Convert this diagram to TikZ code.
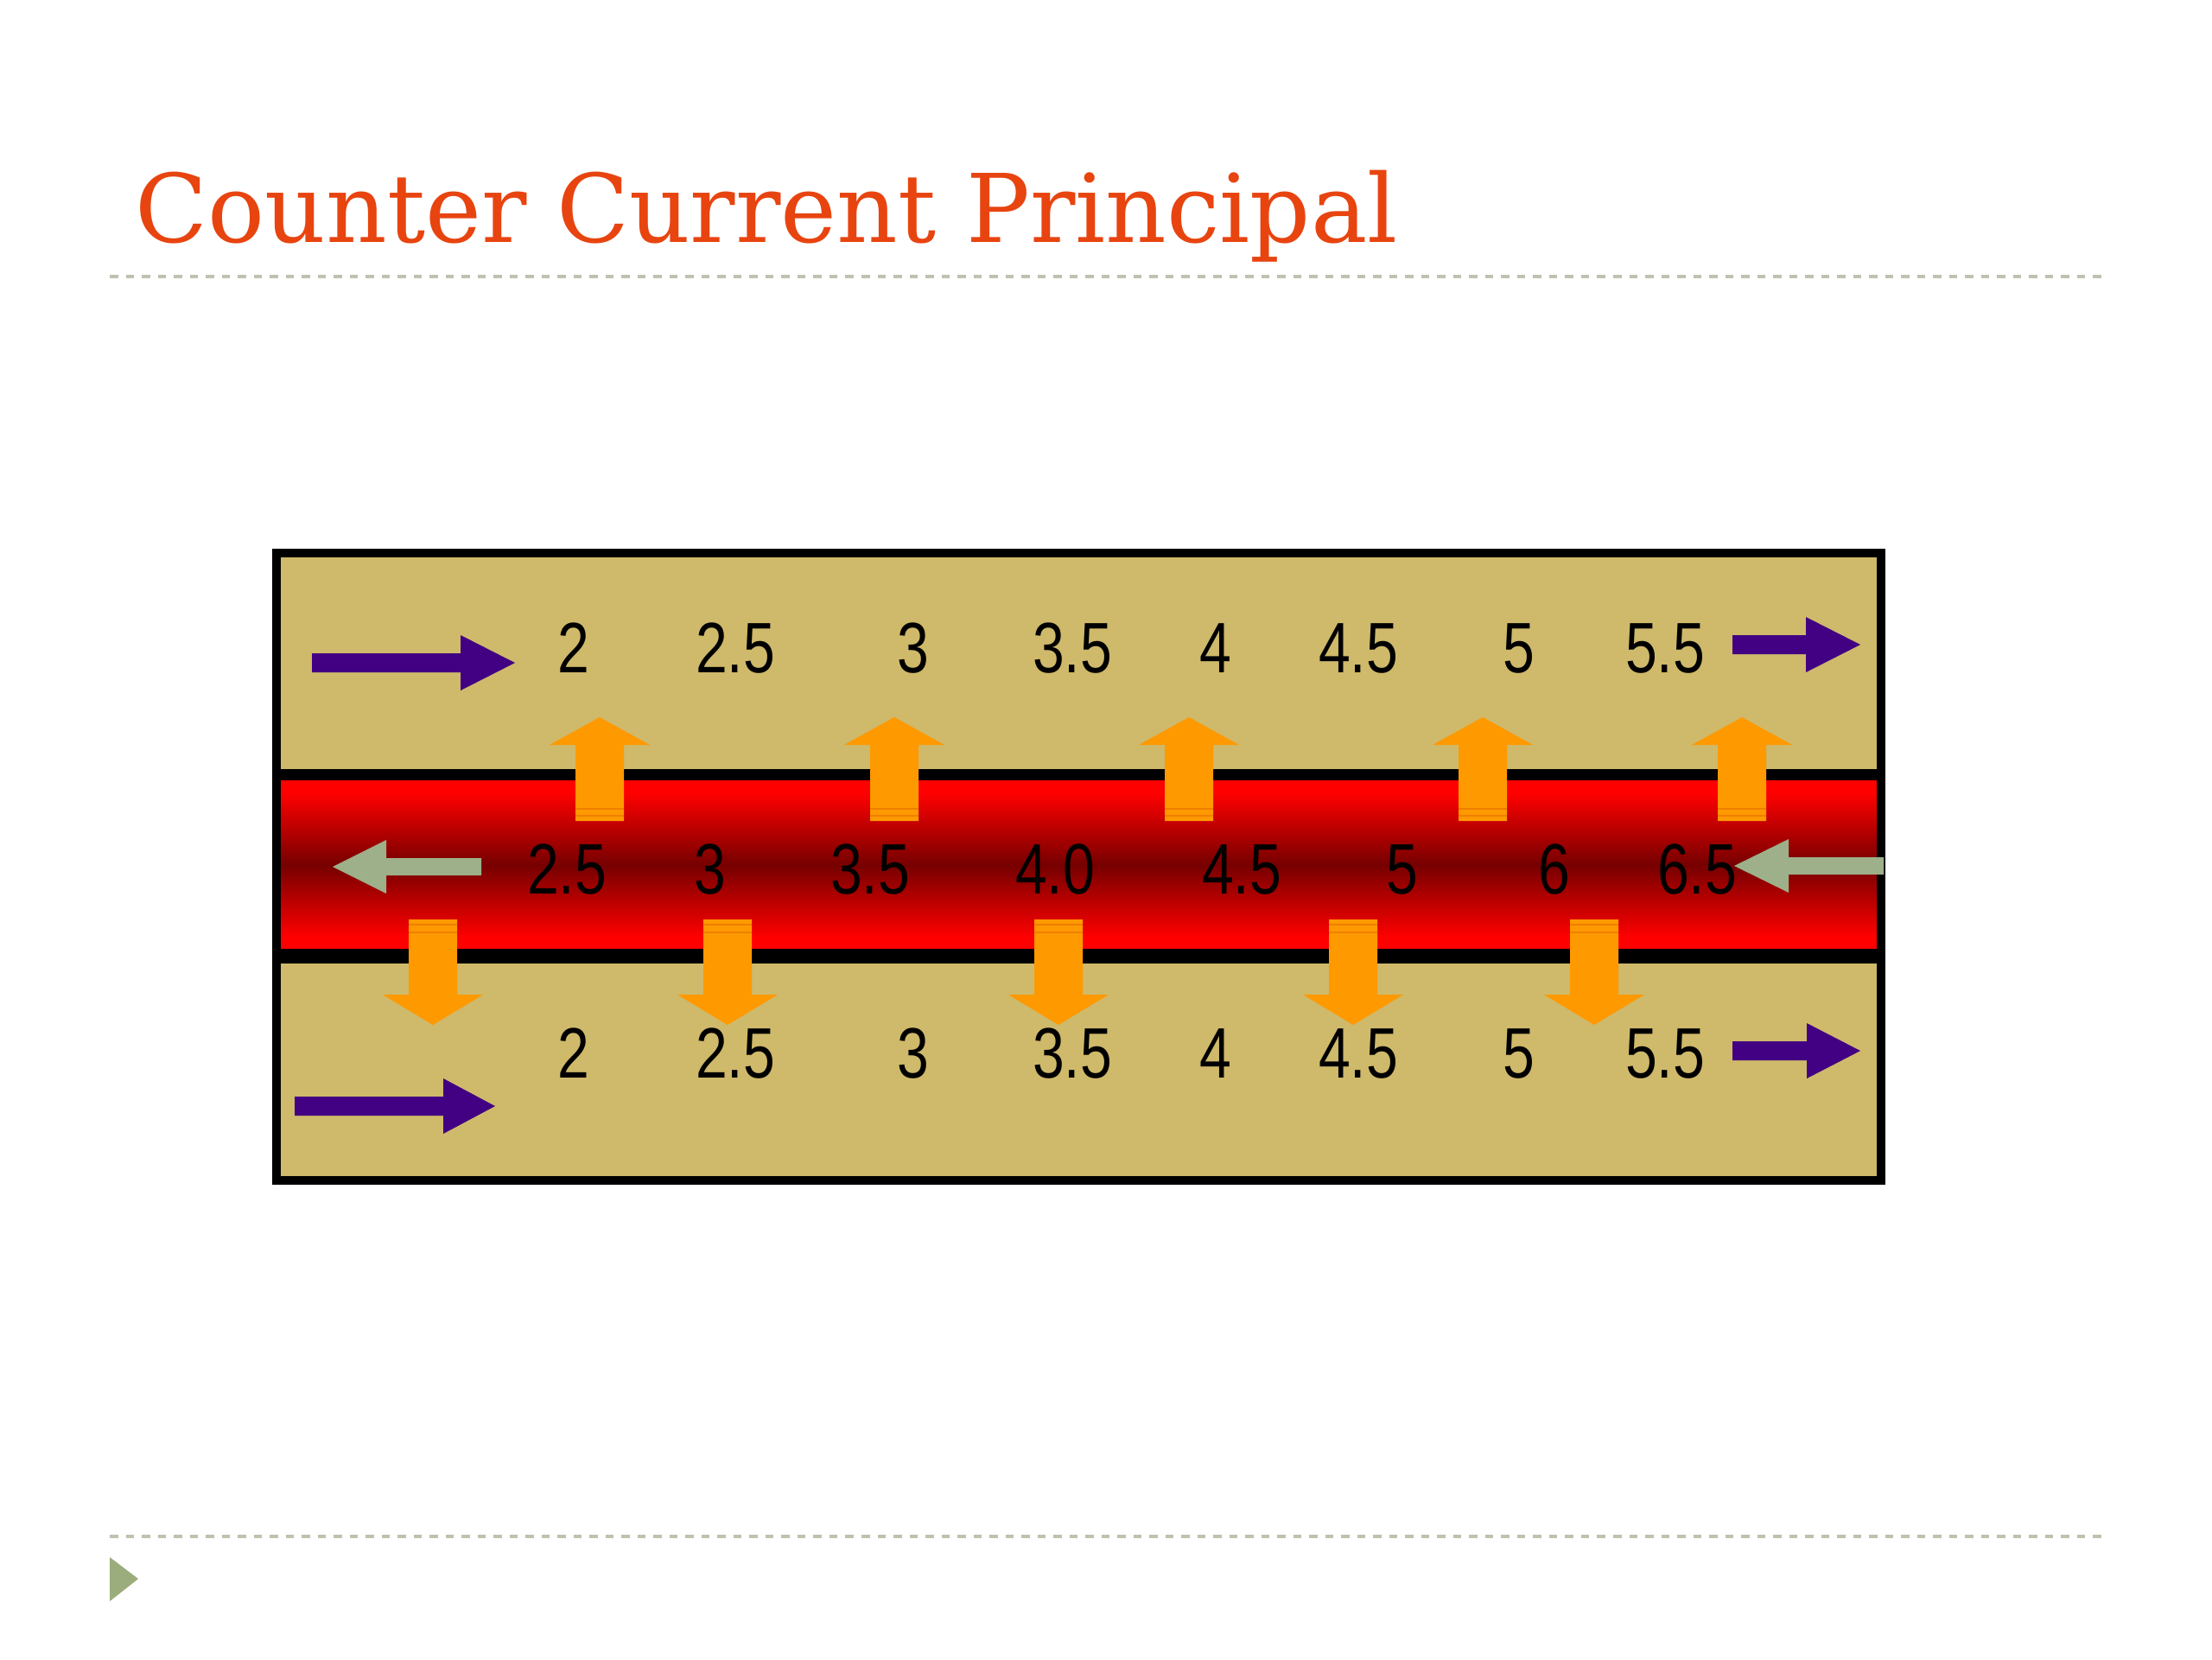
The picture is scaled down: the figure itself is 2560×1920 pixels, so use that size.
\documentclass[tikz,border=0pt]{standalone}
\usepackage{fontspec}
\newfontfamily\titlefont{DejaVu Serif}
\newfontfamily\numfont[FakeStretch=0.8]{Liberation Sans}
\definecolor{titlecol}{RGB}{232,68,16}
\definecolor{tanfill}{RGB}{207,185,106}
\definecolor{purp}{RGB}{66,0,130}
\definecolor{sage}{RGB}{157,176,137}
\definecolor{orng}{RGB}{255,153,0}
\definecolor{orngd}{RGB}{238,128,0}
\definecolor{dred}{RGB}{118,0,0}
\definecolor{dashcol}{RGB}{190,194,175}
\definecolor{bulletcol}{RGB}{155,172,125}
\pgfdeclareverticalshading{redband}{100bp}{color(0bp)=(red); color(25bp)=(red); color(30bp)=(red); color(50bp)=(dred); color(70bp)=(red); color(75bp)=(red); color(100bp)=(red)}
\tikzset{
  num/.style={anchor=base, inner sep=0pt, font=\numfont\fontsize{23.5}{26}\selectfont, text=black},
  uparrowfill/.style={fill=orng},
  purpfill/.style={fill=purp},
  sagefill/.style={fill=sage},
  stripe/.style={draw=orngd, line width=0.015cm},
  rule/.style={dashcol, line width=0.035cm, dash pattern=on 0.095cm off 0.09cm}
}
\begin{document}
\begin{tikzpicture}[x=0.01cm,y=-0.01cm]
\useasboundingbox (0,0) rectangle (2560,1920);
\fill[white] (0,0) rectangle (2560,1920);

% title
\node[anchor=base west, inner sep=0pt, text=titlecol, font=\titlefont\fontsize{31.2}{36}\selectfont] (title) at (156,280) {Counter Current Principal};

% dashed rules
\draw[rule] (127,320) -- (2433,320);
\draw[rule] (127,1778) -- (2433,1778);

% bullet triangle
\fill[bulletcol] (127,1802) -- (160,1827) -- (127,1853) -- cycle;

% box
\fill[tanfill] (320,640) rectangle (2177,1366);
\shade[shading=redband] (320,896) rectangle (2177,1106);
\draw[line width=0.1cm] (320,640) rectangle (2177,1366);
\draw[line width=0.13cm] (320,896) -- (2177,896);
\draw[line width=0.17cm] (320,1106) -- (2177,1106);

% numbers
\foreach \x/\t [count=\i] in {664/2, 851/2.5, 1057/3, 1241/3.5, 1407/4, 1572/4.5, 1758/5, 1927/5.5}
  \node[num] (top\i) at (\x,778) {\t};
\foreach \x/\t [count=\i] in {656/2.5, 822/3, 1007/3.5, 1221/4.0, 1437/4.5, 1623/5, 1799/6, 1964/6.5}
  \node[num] (mid\i) at (\x,1034) {\t};
\foreach \x/\t [count=\i] in {664/2, 851/2.5, 1057/3, 1241/3.5, 1407/4, 1572/4.5, 1758/5, 1927/5.5}
  \node[num] (bot\i) at (\x,1247) {\t};

% orange up arrows
\foreach \c in {694,1035,1376,1716,2016} {
  \fill[uparrowfill] (\c-28,950) -- (\c-28,862) -- (\c-58,862) -- (\c,830) -- (\c+58,862) -- (\c+28,862) -- (\c+28,950) -- cycle;
  \draw[stripe] (\c-28,936) -- (\c+28,936);
  \draw[stripe] (\c-28,944) -- (\c+28,944);
}
% orange down arrows
\foreach \c in {501,842,1225,1566,1845} {
  \fill[uparrowfill] (\c-28,1064) -- (\c-28,1151) -- (\c-58,1151) -- (\c,1186) -- (\c+58,1151) -- (\c+28,1151) -- (\c+28,1064) -- cycle;
  \draw[stripe] (\c-28,1070) -- (\c+28,1070);
  \draw[stripe] (\c-28,1079) -- (\c+28,1079);
}

% purple arrows
\foreach \a/\b/\t/\y in {361/533/596/767, 2005/2090/2153/746, 341/513/573/1280, 2005/2091/2153/1216}
  \fill[purpfill] (\a,\y-11) -- (\b,\y-11) -- (\b,\y-32) -- (\t,\y) -- (\b,\y+32) -- (\b,\y+11) -- (\a,\y+11) -- cycle;

% sage arrows
\foreach \t/\b/\e/\y in {385/447/557/1003, 2007/2070/2180/1002}
  \fill[sagefill] (\e,\y-10) -- (\b,\y-10) -- (\b,\y-31) -- (\t,\y) -- (\b,\y+31) -- (\b,\y+10) -- (\e,\y+10) -- cycle;
\end{tikzpicture}
\end{document}
